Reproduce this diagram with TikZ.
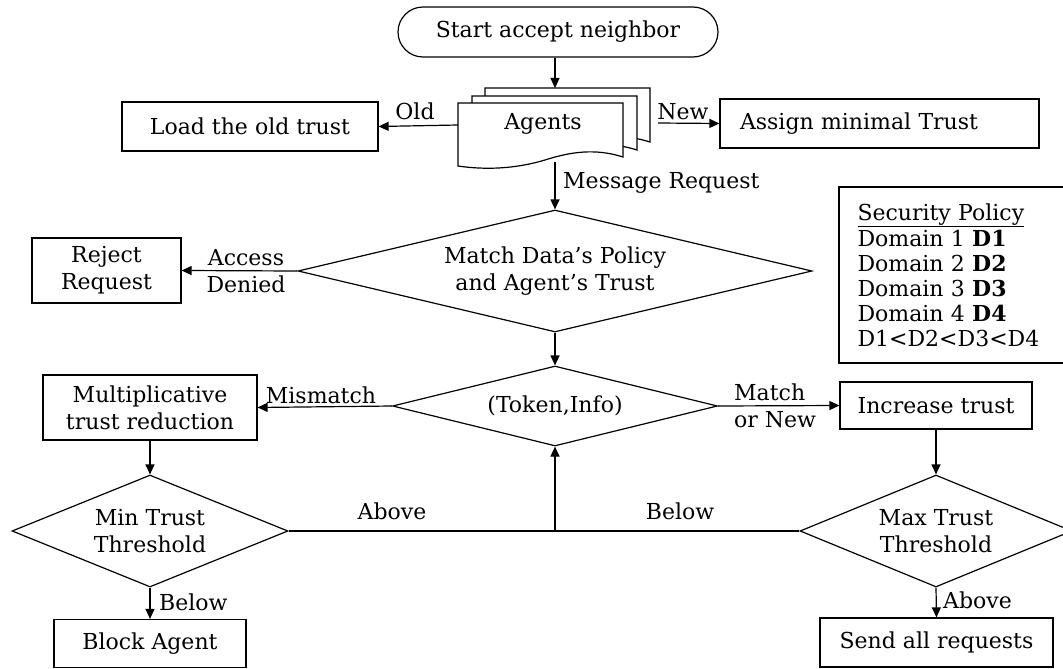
\documentclass[tikz,border=0pt]{standalone}
\usepackage{fontspec}
\setmainfont{DejaVu Serif}
\usetikzlibrary{arrows.meta,shapes.geometric}

\tikzset{
  every node/.style={font=\fontsize{22}{27}\selectfont},
  flow/.style={line width=1.2pt},
  arr/.style={flow,-{Triangle[length=10pt,width=9pt]}},
  box/.style={draw,line width=1.2pt,fill=white,rectangle,inner sep=0pt,align=center},
  decide/.style={draw,line width=1.2pt,fill=white,diamond,inner sep=0pt,align=center},
  lbl/.style={inner sep=0pt,align=left},
  sheet/.style={draw,line width=1.2pt,fill=white},
}

\begin{document}
\begin{tikzpicture}[x=1pt,y=-1pt]
\useasboundingbox (0,0) rectangle (1063,669);

% start terminal
\node[box,rounded corners=25pt,minimum width=320pt,minimum height=50pt] (start) at (558,32) {Start accept neighbor};

% stacked agent documents
\foreach \dx/\dy in {27/-15,14/-7,0/0}{
  \draw[sheet,shift={(\dx,\dy)}] (458,103) -- (623,103) -- (623,157)
    .. controls (595,148) and (570,152) .. (545,160)
    .. controls (515,169) and (485,170) .. (458,166) -- cycle;
}
\node[inner sep=0pt] (agents) at (543,124) {Agents};
\coordinate (agtop) at (555,88);
\coordinate (agwest) at (458,125);
\coordinate (ageast) at (658,123);
\coordinate (agbot) at (555,162);

% process boxes
\node[box,minimum width=256pt,minimum height=49pt] (load) at (250,126.5) {Load the old trust};
\node[box,minimum width=319pt,minimum height=49pt,text width=279pt,inner xsep=20pt,align=left] (assign) at (879.5,123.5) {Assign minimal Trust};
\node[box,minimum width=149pt,minimum height=65pt] (reject) at (106.5,270.5) {Reject\\Request};
\node[box,minimum width=214pt,minimum height=65pt] (mult) at (150,407.5) {Multiplicative\\trust reduction};
\node[box,minimum width=192pt,minimum height=47pt] (inc) at (936,405.5) {Increase trust};
\node[box,minimum width=192pt,minimum height=48pt] (block) at (150,643.5) {Block Agent};
\node[box,minimum width=233pt,minimum height=49pt] (send) at (936.5,642.5) {Send all requests};

% policy legend, running off the right edge
\node[box,minimum width=227pt,minimum height=176pt,text width=190pt,align=left,
      font=\fontsize{22}{25}\selectfont] (policy) at (952.5,275)
  {\underline{Security Policy}\\[1pt]Domain 1 \textbf{D1}\\Domain 2 \textbf{D2}\\Domain 3 \textbf{D3}\\Domain 4 \textbf{D4}\\D1<D2<D3<D4};

% decisions
\node[decide,minimum width=514pt,minimum height=122pt,shape aspect=4.2] (match) at (555,271) {Match Data's Policy\\and Agent's Trust};
\node[decide,minimum width=325pt,minimum height=80pt,shape aspect=4] (token) at (555,406) {(Token,Info)};
\node[decide,minimum width=276pt,minimum height=112pt,shape aspect=2.5] (mind) at (150,531) {Min Trust\\Threshold};
\node[decide,minimum width=272pt,minimum height=112pt,shape aspect=2.4] (maxd) at (936,531) {Max Trust\\Threshold};

% connectors
\draw[arr] (start.south -| agtop) -- (agtop);
\draw[arr] (agwest) -- (load.east);
\draw[arr] (ageast) -- (assign.west);
\draw[arr] (agbot) -- (match.north);
\draw[arr] (match.west) -- (reject.east);
\draw[arr] (match.south) -- (token.north);
\draw[arr] (token.west) -- (mult.east);
\draw[arr] (token.east) -- (inc.west);
\draw[arr] (mult.south) -- (mind.north);
\draw[arr] (inc.south) -- (maxd.north);
\draw[flow] (mind.east) -- (maxd.west);
\coordinate (join) at (mind.east -| token.south);
\draw[arr] (join) -- (token.south);
\draw[arr] (mind.south) -- (block.north);
\draw[arr] (maxd.south) -- (send.north);

% connector labels
\node[lbl] (lold) at (415,111) {Old};
\node[lbl] (lnew) at (683,112) {New};
\node[lbl,anchor=west] (lmsg) at (563,183) {Message Request};
\node[lbl,align=center] (ldeny) at (246,271) {Access\\Denied};
\node[lbl] (lmis) at (321,395) {Mismatch};
\node[lbl,anchor=west] (lmat) at (734,406) {Match\\or New};
\node[lbl] (labove) at (392,511) {Above};
\node[lbl] (lbelow) at (680,511) {Below};
\node[lbl,anchor=west] (lminb) at (159,602) {Below};
\node[lbl,anchor=west] (lmaxa) at (943,600) {Above};
\end{tikzpicture}
\end{document}
